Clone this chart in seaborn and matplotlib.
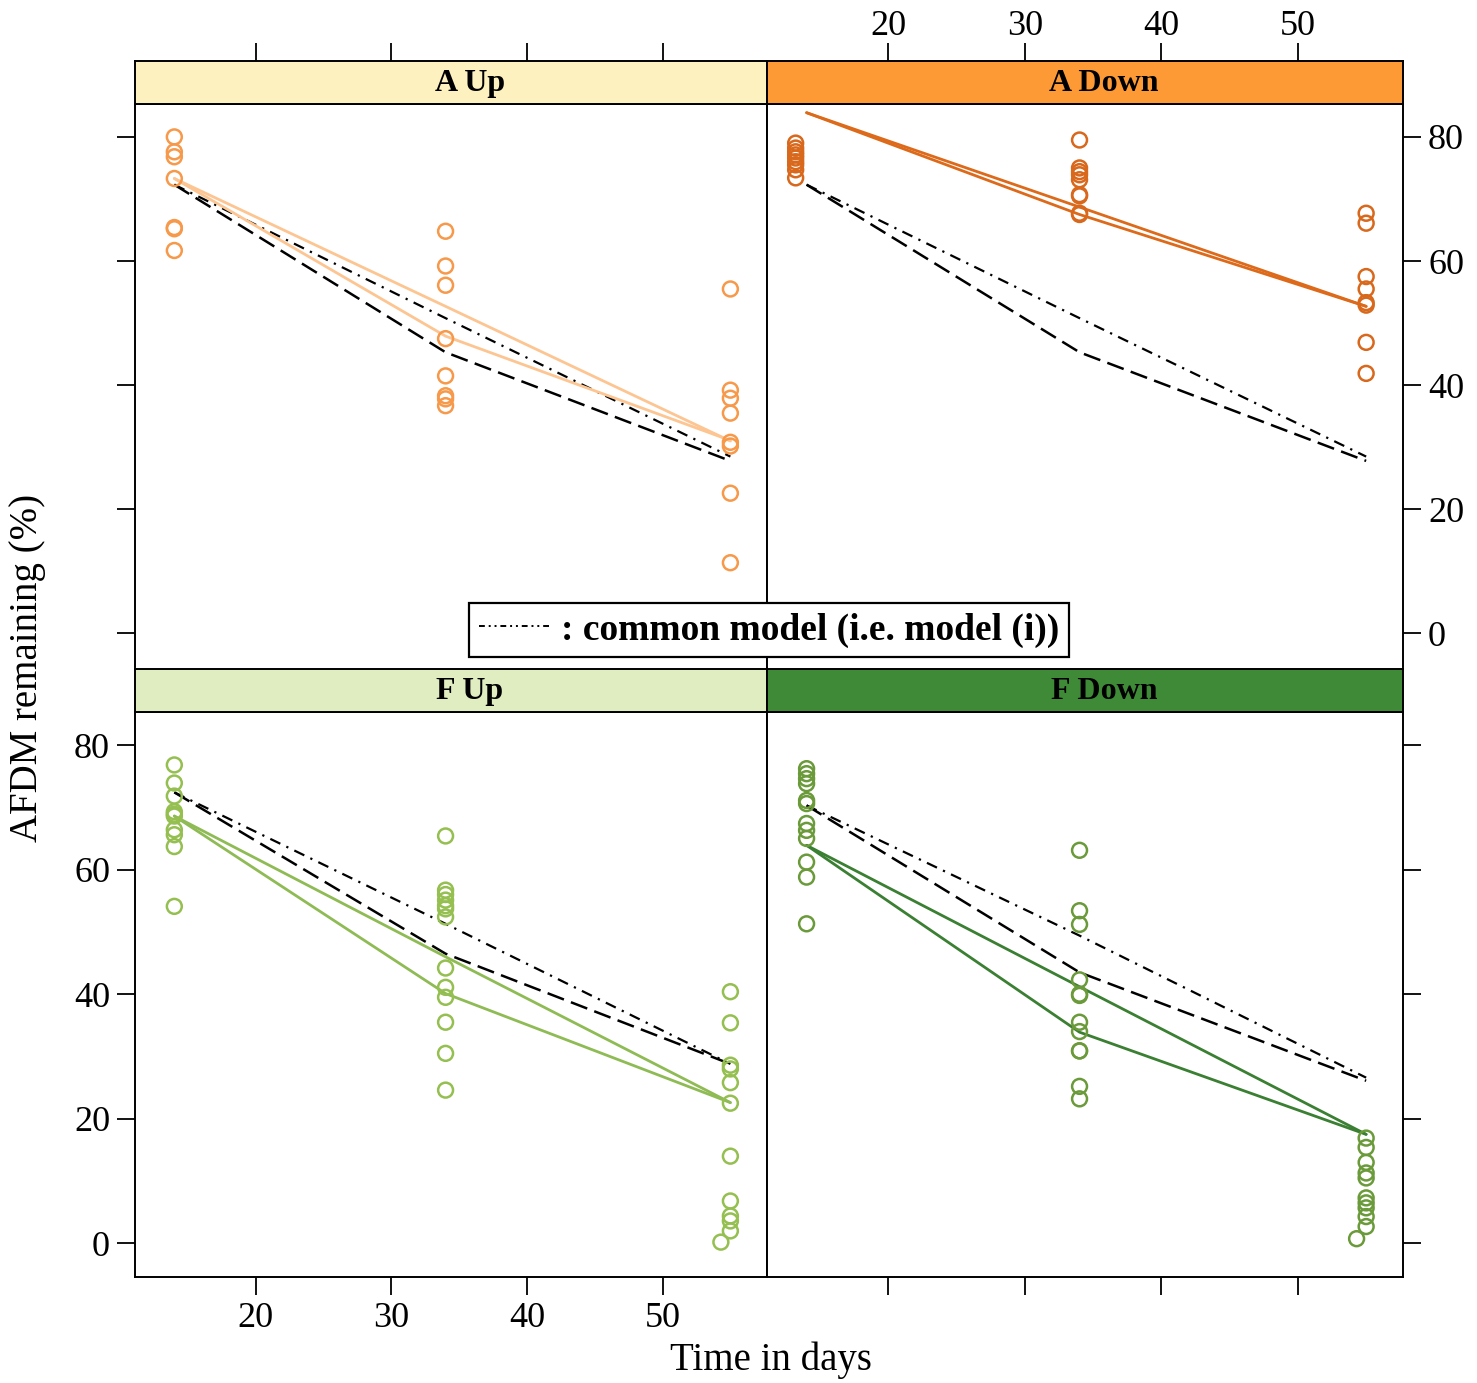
import numpy as np
import pandas as pd
import matplotlib
matplotlib.use('Agg')
import matplotlib.pyplot as plt
from matplotlib.lines import Line2D
import seaborn as sns

sns.set_style('white')
plt.rcParams['font.family'] = ['Liberation Serif', 'DejaVu Serif']
plt.rcParams['axes.unicode_minus'] = False
for k in ['text.color', 'xtick.color', 'ytick.color', 'axes.labelcolor']:
    plt.rcParams[k] = 'black'

# ---- data ----
panels = ['A Up', 'A Down', 'F Up', 'F Down']
fit_days = [14, 34, 55]

a_up_d14 = [80.0, 77.6, 76.8, 73.3, 65.4, 65.2, 61.7]
a_up_d34 = [64.8, 59.2, 56.1, 47.5, 41.5, 38.3, 37.8, 36.7]
a_up_d55 = [55.5, 39.2, 37.9, 35.5, 30.8, 30.2, 22.6, 11.4]

a_down_d14 = [79.0, 78.2, 77.6, 77.1, 76.6, 76.0, 75.5, 74.7, 73.4]
a_down_d34 = [79.5, 75.0, 74.4, 73.9, 73.1, 70.7, 70.5, 67.7, 67.5]
a_down_d55 = [67.7, 66.1, 57.5, 55.5, 53.3, 52.9, 46.9, 41.9]

f_up_d14 = [76.8, 73.9, 71.8, 69.3, 68.9, 68.6, 66.4, 65.6, 63.7, 54.1]
f_up_d34 = [65.4, 56.7, 56.0, 55.1, 54.2, 53.7, 52.4, 44.2, 41.1, 39.5, 35.5, 30.5, 24.6]
f_up_d55 = [40.4, 35.4, 28.6, 28.0, 25.8, 22.5, 14.0, 6.8, 4.4, 3.6, 2.0]
f_up_late = [0.2]

f_down_d14 = [76.2, 75.4, 74.6, 73.8, 71.1, 70.6, 67.4, 66.3, 65.0, 61.2, 58.8, 51.3]
f_down_d34 = [63.1, 53.4, 51.2, 42.3, 40.0, 39.8, 35.5, 34.0, 30.9, 30.9, 25.2, 23.2]
f_down_d55 = [16.9, 15.4, 13.0, 11.3, 10.5, 7.3, 6.5, 5.7, 4.3, 2.7]
f_down_late = [0.75]

# sampling days of the observations per panel
obs_days = {
    'A Up': [14, 34, 55],
    'A Down': [13.2, 34, 55],
    'F Up': [14, 34, 55],
    'F Down': [14, 34, 55],
}
late_day = 54.3

# fitted curves (two separate-model fits per panel)
a_up_fit1 = [73.3, 52.7, 31.0]
a_up_fit2 = [73.3, 47.9, 31.1]
a_down_fit1 = [83.9, 68.7, 52.7]
a_down_fit2 = [83.9, 67.5, 52.7]
f_up_fit1 = [68.6, 46.0, 22.6]
f_up_fit2 = [68.6, 40.1, 22.6]
f_down_fit1 = [63.9, 41.2, 17.5]
f_down_fit2 = [63.9, 33.9, 17.5]

# reference (dashed) and common model (dash-dot)
a_dashed = [72.3, 45.3, 27.8]
a_common = [72.3, 50.8, 28.5]
f_up_dashed = [72.4, 46.5, 28.8]
f_up_common = [72.4, 51.3, 28.8]
f_down_dashed = [70.3, 43.5, 26.1]
f_down_common = [70.3, 49.4, 26.6]

obs = {
    'A Up': (a_up_d14, a_up_d34, a_up_d55, []),
    'A Down': (a_down_d14, a_down_d34, a_down_d55, []),
    'F Up': (f_up_d14, f_up_d34, f_up_d55, f_up_late),
    'F Down': (f_down_d14, f_down_d34, f_down_d55, f_down_late),
}
fits = {
    'A Up': (a_up_fit1, a_up_fit2, a_dashed, a_common),
    'A Down': (a_down_fit1, a_down_fit2, a_dashed, a_common),
    'F Up': (f_up_fit1, f_up_fit2, f_up_dashed, f_up_common),
    'F Down': (f_down_fit1, f_down_fit2, f_down_dashed, f_down_common),
}

strip_col = {'A Up': '#fdf1c0', 'A Down': '#fd9a35', 'F Up': '#dfedc0', 'F Down': '#3f8a37'}
point_col = {'A Up': '#f7994a', 'A Down': '#d8681c', 'F Up': '#95bf50', 'F Down': '#6b9a3a'}
line_col = {'A Up': '#fdc592', 'A Down': '#dc6a1a', 'F Up': '#8fbb55', 'F Down': '#3a7f32'}

# ---- layout (lattice style) ----
W, H = 1477, 1383
fig = plt.figure(figsize=(W / 100, H / 100), dpi=100)

xl = [135 / W, 767 / W]
xw = [(767 - 135) / W, (1403 - 767) / W]
strip_h = 43 / H
pan_top = [1 - 104 / H, 1 - 712 / H]
pan_bot = [1 - 667 / H, 1 - 1277 / H]

xlim = (11.1, 57.7)
ylim = (-5.4, 85.3)
xticks = [20, 30, 40, 50]
yticks = [0, 20, 40, 60, 80]
tick_kw = dict(direction='out', length=13, width=1.3, labelsize=26, pad=5)

positions = {'A Up': (0, 0), 'A Down': (0, 1), 'F Up': (1, 0), 'F Down': (1, 1)}

for name in panels:
    r, c = positions[name]
    ax = fig.add_axes([xl[c], pan_bot[r], xw[c], pan_top[r] - pan_bot[r]])
    sax = fig.add_axes([xl[c], pan_top[r], xw[c], strip_h])

    # observations
    d14, d34, d55, late = obs[name]
    days = obs_days[name]
    df = pd.DataFrame({
        'day': [days[0]] * len(d14) + [days[1]] * len(d34) + [days[2]] * len(d55) + [late_day] * len(late),
        'afdm': d14 + d34 + d55 + late,
    })
    sns.scatterplot(data=df, x='day', y='afdm', ax=ax, s=115, marker='o',
                    facecolor='none', edgecolor=point_col[name], linewidth=1.8, zorder=3)

    f1, f2, dashed, common = fits[name]
    sns.lineplot(x=fit_days, y=dashed, ax=ax, color='black', linewidth=1.8,
                 linestyle=(0, (7, 3)), estimator=None, sort=False, zorder=2)
    sns.lineplot(x=fit_days, y=common, ax=ax, color='black', linewidth=1.6,
                 linestyle=(0, (5, 3, 1, 3)), estimator=None, sort=False, zorder=2)
    for fit in (f1, f2):
        sns.lineplot(x=fit_days, y=fit, ax=ax, color=line_col[name], linewidth=2.0,
                     estimator=None, sort=False, zorder=2)

    ax.set_xlim(*xlim)
    ax.set_ylim(*ylim)
    ax.set_xlabel('')
    ax.set_ylabel('')
    ax.grid(False)
    for sp in ax.spines.values():
        sp.set_color('black')
        sp.set_linewidth(1.4)
    if r == 0:
        ax.spines['bottom'].set_visible(False)

    ax.set_xticks(xticks)
    ax.set_yticks(yticks)
    ax.tick_params(**tick_kw)
    # lattice alternating axes
    if r == 0:
        ax.tick_params(axis='x', bottom=False, labelbottom=False)
    else:
        ax.tick_params(axis='x', bottom=True, labelbottom=(c == 0))
    if c == 0:
        ax.tick_params(axis='y', left=True, labelleft=(r == 1), right=False, labelright=False)
    else:
        ax.tick_params(axis='y', left=False, labelleft=False, right=True, labelright=(r == 0))

    # strip
    sax.set_facecolor(strip_col[name])
    sax.set_xlim(*xlim)
    sax.set_yticks([])
    for sp in sax.spines.values():
        sp.set_color('black')
        sp.set_linewidth(1.4)
    if r == 0:
        sax.xaxis.tick_top()
        sax.set_xticks(xticks)
        sax.tick_params(axis='x', **tick_kw)
        sax.tick_params(axis='x', labeltop=(c == 1), pad=0)
    else:
        sax.set_xticks([])
    sax.text(0.53, 0.48, name, transform=sax.transAxes, ha='center', va='center',
             fontsize=23, fontweight='bold', color='black')

fig.text(771 / W, 1 - 1360 / H, 'Time in days', ha='center', va='center', fontsize=28)
fig.text(28 / W, 1 - 668 / H, 'AFDM remaining (%)', ha='center', va='center',
         rotation=90, fontsize=28)

handle = Line2D([], [], color='black', linewidth=1.4, linestyle=(0, (3, 2, 1, 2, 1, 2)))
leg = fig.legend(handles=[handle], labels=[': common model (i.e. model (i))'],
                 loc='center', bbox_to_anchor=(769 / W, 1 - 630 / H),
                 prop={'family': 'Liberation Serif', 'weight': 'bold', 'size': 27},
                 frameon=True, fancybox=False, edgecolor='black', framealpha=1,
                 handlelength=1.9, handletextpad=0.3, borderpad=0.25, borderaxespad=0)
leg.get_frame().set_linewidth(1.6)
leg.set_zorder(10)

fig.savefig('out.png', dpi=100, facecolor='white')
